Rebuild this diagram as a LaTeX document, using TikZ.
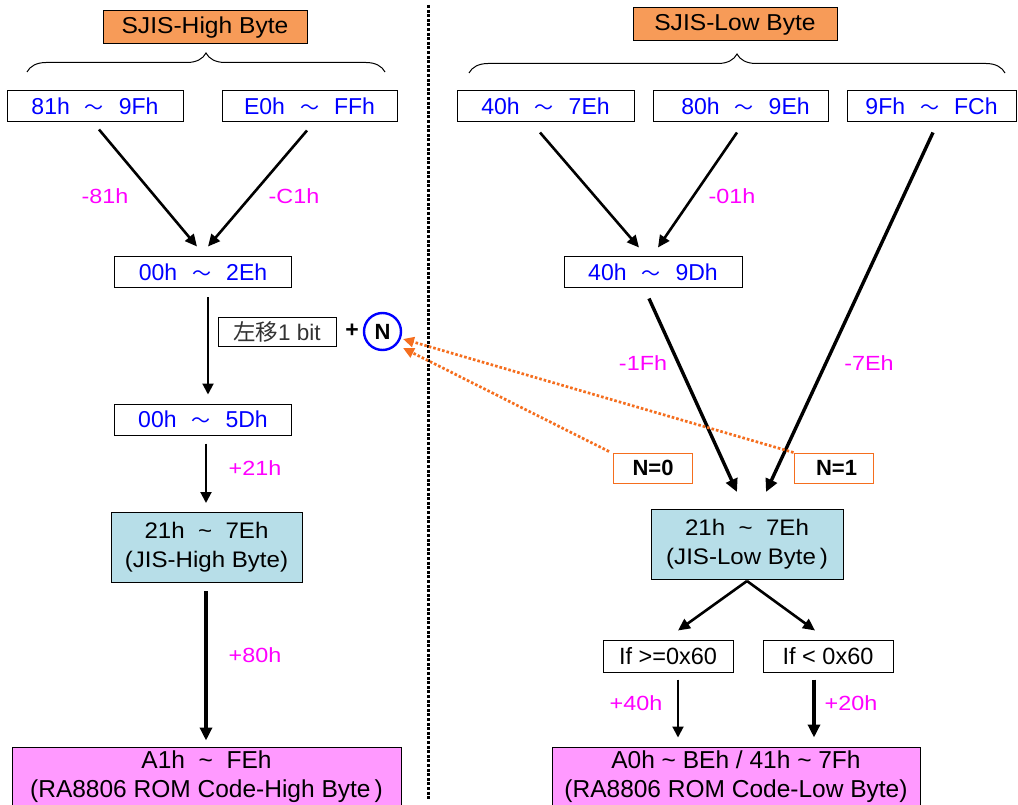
\documentclass[tikz,border=0pt]{standalone}
\usepackage{fontspec}
\setmainfont{Liberation Sans}
\newfontfamily\cjk{Noto Sans CJK JP}
\newfontfamily\widefont[FakeStretch=1.14]{Liberation Sans}
\newfontfamily\midfont[FakeStretch=1.07]{Liberation Sans}
\usetikzlibrary{arrows.meta,decorations.pathreplacing,calc}
\definecolor{hdrorange}{RGB}{247,155,88}
\definecolor{jisteal}{RGB}{183,222,232}
\definecolor{rompink}{RGB}{255,153,255}
\definecolor{dotorange}{RGB}{245,110,30}
\definecolor{labmag}{RGB}{255,0,255}
\newcommand{\wt}{\hspace{15pt}{\cjk\fontsize{19}{20}\selectfont ～}\hspace{15pt}}
\newcommand{\st}{\ \ \textasciitilde\ \ }
\tikzset{
  base/.style={inner sep=0pt, font=\fontsize{23}{27}\selectfont},
  hdr/.style={base, draw, line width=1pt, fill=hdrorange, minimum width=204, minimum height=33, font=\midfont\fontsize{23}{27}\selectfont},
  rng/.style={base, draw, line width=1pt, fill=white, text=blue, minimum height=31},
  jis/.style={base, draw, line width=1pt, fill=jisteal, minimum height=70, align=center, font=\midfont\fontsize{22.5}{29}\selectfont},
  rom/.style={base, draw, line width=1pt, fill=rompink, minimum height=60, align=center, font=\fontsize{24.5}{29}\selectfont},
  cond/.style={base, draw, line width=1pt, fill=white, minimum width=130, minimum height=32, font=\fontsize{23.5}{27}\selectfont},
  nbox/.style={base, draw=dotorange, line width=1pt, fill=white, minimum width=79, minimum height=30, font=\bfseries\fontsize{22}{25}\selectfont},
  lab/.style={base, text=labmag, font=\widefont\fontsize{20.5}{24}\selectfont},
  arr/.style={line width=2.6pt, -{Triangle[length=12pt,width=11pt]}},
  tarr/.style={line width=3.4pt, -{Triangle[length=13pt,width=12pt]}},
  narr/.style={line width=2pt, -{Triangle[length=11pt,width=11pt]}},
  oarr/.style={draw=dotorange, line width=2.7pt, dash pattern=on 2.6pt off 2pt, -{Triangle[length=11pt,width=10pt,fill=dotorange]}},
  bracestyle/.style={line width=1pt, decorate, decoration={brace, amplitude=19pt}},
}
\begin{document}
\begin{tikzpicture}[x=1pt,y=-1pt]
\useasboundingbox (0,0) rectangle (1018,805);
\clip (0,0) rectangle (1018,805);
\fill[white] (0,0) rectangle (1018,805);

% divider
\draw[line width=3pt, dash pattern=on 3pt off 1.6pt] (428,5) -- (428,800);

% headers and braces
\node[hdr] (hb) at (205,27.5) {SJIS-High Byte};
\node[hdr] (lb) at (735,24.5) {SJIS-Low Byte};
\draw[bracestyle] (27,72) -- (385,72);
\draw[bracestyle] (469,73) -- (1005,73);

% top range boxes
\node[rng, minimum width=176] (b1) at (95,106.5) {81h\wt9Fh};
\node[rng, minimum width=175] (b2) at (309.5,106.5) {E0h\wt FFh};
\node[rng, minimum width=177] (b3) at (545.5,106.5) {40h\wt7Eh};
\node[rng, minimum width=175] (b4) at (740.5,106.5) {\hspace{10pt}80h\wt9Eh};
\node[rng, minimum width=169] (b5) at (931.5,106.5) {9Fh\wt FCh};

% middle range boxes
\node[rng, minimum width=177] (m1) at (203,272.5) {00h\wt2Eh};
\node[rng, minimum width=177] (m2) at (203,419.5) {00h\wt5Dh};
\node[rng, minimum width=178] (m3) at (653,272.5) {40h\wt9Dh};

% shift box, plus, N
\node[base, draw, line width=1pt, minimum width=118, minimum height=29, text=black!80, font=\fontsize{22.5}{25}\selectfont] (sh) at (277,331.5) {{\cjk 左移}1 bit};
\node[base, font=\bfseries\fontsize{23}{27}\selectfont] (pl) at (352,331) {+};
\node[base, circle, draw=blue, line width=2.4pt, minimum size=37, font=\bfseries\fontsize{22}{25}\selectfont] (N) at (382.5,331.5) {N};

% N boxes
\node[nbox] (n0) at (653,468) {\raisebox{-3pt}{N=0}};
\node[nbox] (n1) at (833.5,468) {\raisebox{-3pt}{\hspace{6pt}N=1}};

% JIS boxes
\node[jis, minimum width=191] (jh) at (206.5,547.5) {21h\st7Eh\\(JIS-High Byte)};
\node[jis, minimum width=192] (jl) at (747,544.5) {21h\st7Eh\\(JIS-Low Byte\,)};

% condition boxes
\node[cond] (c1) at (668,656) {If >=0x60};
\node[cond] (c2) at (828,656) {If < 0x60};

% ROM boxes
\node[rom, minimum width=389] (rh) at (206.5,777) {A1h\st FEh\\(RA8806 ROM Code-High Byte\,)};
\node[rom, minimum width=368] (rl) at (736,777) {A0h \textasciitilde{} BEh / 41h \textasciitilde{} 7Fh\\(RA8806 ROM Code-Low Byte)};

% labels
\node[lab] (l81) at (105,196) {-81h};
\node[lab] (lc1) at (294,196) {-C1h};
\node[lab] (l01) at (732,196) {-01h};
\node[lab] (l1f) at (643,363) {-1Fh};
\node[lab] (l7e) at (869,363) {-7Eh};
\node[lab] (l21) at (255,468) {+21h};
\node[lab] (l80) at (255,655) {+80h};
\node[lab] (l40) at (636,703) {+40h};
\node[lab] (l20) at (851,703) {+20h};

% connectors
\draw[arr] ([shift={(4,7)}]b1.south) -- ([shift={(-6,-10)}]m1.north);
\draw[arr] ([shift={(-2.5,8)}]b2.south) -- ([shift={(5,-10)}]m1.north);
\draw[arr] ([shift={(-5.5,10)}]b3.south) -- ([shift={(-14,-9)}]m3.north);
\draw[arr] ([shift={(-3.5,10)}]b4.south) -- ([shift={(5,-9)}]m3.north);
\draw[tarr] ([shift={(-4,10)}]m3.south) -- ([shift={(-10,-17)}]jl.north);
\draw[tarr] ([shift={(1.5,10)}]b5.south) -- ([shift={(19,-17)}]jl.north);
\draw[narr] ([shift={(5,9)}]m1.south) -- ([shift={(5,-9)}]m2.north);
\draw[narr] ([shift={(3,8)}]m2.south) -- ([shift={(-0.5,-9)}]jh.north);
\draw[tarr] ([shift={(-0.5,8)}]jh.south) -- ([shift={(-0.5,-6)}]rh.north);
\draw[arr] ([shift={(0,1)}]jl.south) -- ([shift={(10,-9)}]c1.north);
\draw[arr] ([shift={(0,1)}]jl.south) -- ([shift={(-13,-9)}]c2.north);
\draw[narr] ([shift={(10,7)}]c1.south) -- ([shift={(-58,-9)}]rl.north);
\draw[tarr] ([shift={(-14,7)}]c2.south) -- ([shift={(78,-9)}]rl.north);
\draw[oarr] ([shift={(0,0)}]n1.north west) -- ([shift={(20.5,7.5)}]N.center);
\draw[oarr] ([shift={(-4,-1)}]n0.north west) -- ([shift={(20.5,16.5)}]N.center);
\end{tikzpicture}
\end{document}
